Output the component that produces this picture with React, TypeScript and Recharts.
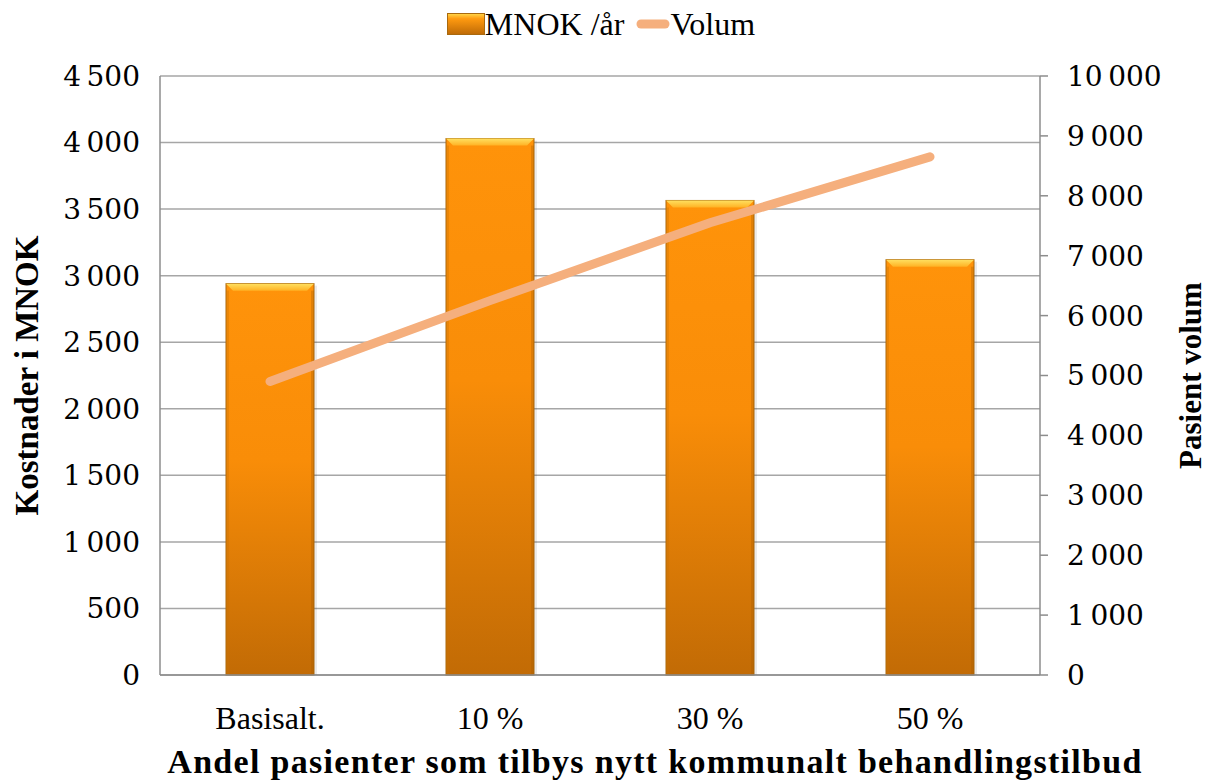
import React from 'react';
import { ComposedChart, Bar, Line, XAxis, YAxis, CartesianGrid, Legend } from 'recharts';

const categories = ['Basisalt.', '10 %', '30 %', '50 %'];
const mnokValues = [2940, 4030, 3565, 3120];
const volumValues = [4900, 6250, 7550, 8650];
const leftTicks = [0, 500, 1000, 1500, 2000, 2500, 3000, 3500, 4000, 4500];
const rightTicks = [0, 1000, 2000, 3000, 4000, 5000, 6000, 7000, 8000, 9000, 10000];

const data = categories.map((c, i) => ({ name: c, mnok: mnokValues[i], volum: volumValues[i] }));

const fmt = (v: number) => {
  const s = String(v);
  return s.replace(/\B(?=(\d{3})+(?!\d))/g, '\u2009');
};

const SERIF = "'Liberation Serif', 'Times New Roman', serif";
const TICKFONT = "'DejaVu Serif', serif";

const BarShape = (props: any) => {
  const { x, y, width, height } = props;
  if (!height || height <= 0) return null;
  const b = Math.min(7, height / 2);
  return (
    <g>
      <rect x={x + 3} y={y + 2} width={width} height={height - 2} fill="#000" opacity={0.08} />
      <rect x={x} y={y} width={width} height={height} fill="url(#barGrad)" stroke="#A9690E" strokeWidth={1} />
      <polygon
        points={`${x},${y} ${x + width},${y} ${x + width - b},${y + b} ${x + b},${y + b}`}
        fill="url(#bevelGrad)"
      />
      <rect x={x} y={y + b} width={3} height={height - b} fill="#C97406" opacity={0.35} />
      <rect x={x + width - 3} y={y + b} width={3} height={height - b} fill="#A85E04" opacity={0.35} />
    </g>
  );
};

const LegendContent = () => (
  <div
    style={{
      display: 'flex',
      justifyContent: 'center',
      alignItems: 'center',
      fontFamily: SERIF,
      fontSize: 32,
      color: '#000',
      lineHeight: '36px',
      paddingRight: 6,
    }}
  >
    <svg width={38} height={22} style={{ marginRight: 0 }}>
      <defs>
        <linearGradient id="legGrad" x1="0" y1="0" x2="0" y2="1">
          <stop offset="0" stopColor="#FFD84A" />
          <stop offset="0.25" stopColor="#FF9A10" />
          <stop offset="1" stopColor="#BE6A06" />
        </linearGradient>
      </defs>
      <rect x={0.5} y={0.5} width={37} height={21} fill="url(#legGrad)" stroke="#A9690E" />
    </svg>
    <span style={{ marginRight: 12 }}>MNOK /år</span>
    <svg width={34} height={12}>
      <line x1={5} y1={6} x2={29} y2={6} stroke="#F5AF7D" strokeWidth={9} strokeLinecap="round" />
    </svg>
    <span>Volum</span>
  </div>
);

export default function App() {
  return (
    <div style={{ position: 'absolute', left: 0, top: 0, width: 1208, height: 783, background: '#fff' }}>
      <ComposedChart width={1208} height={783} data={data} margin={{ top: 76, right: 0, bottom: 0, left: 0 }}>
        <defs>
          <linearGradient id="barGrad" x1="0" y1="0" x2="0" y2="1">
            <stop offset="0" stopColor="#FF930A" />
            <stop offset="0.45" stopColor="#F98D08" />
            <stop offset="1" stopColor="#C26B05" />
          </linearGradient>
          <linearGradient id="bevelGrad" x1="0" y1="0" x2="0" y2="1">
            <stop offset="0" stopColor="#FFE060" />
            <stop offset="1" stopColor="#FFB224" />
          </linearGradient>
        </defs>
        <CartesianGrid yAxisId="left" vertical={false} stroke="#A6A6A6" strokeWidth={1.5} />
        <XAxis
          dataKey="name"
          height={108}
          axisLine={{ stroke: '#8C8C8C', strokeWidth: 1.5 }}
          tickLine={false}
          tickSize={0}
          tickMargin={31}
          tick={{ fontFamily: SERIF, fontSize: 32, fill: '#000' }}
          label={{
            value: 'Andel pasienter som tilbys nytt kommunalt behandlingstilbud',
            position: 'insideBottom',
            offset: 10,
            dx: 55,
            style: { fontFamily: SERIF, fontSize: 34, fontWeight: 'bold', fill: '#000', letterSpacing: 1.3 },
          }}
        />
        <YAxis
          yAxisId="left"
          width={160}
          domain={[0, 4500]}
          ticks={leftTicks}
          interval={0}
          tickFormatter={fmt}
          axisLine={{ stroke: '#8C8C8C', strokeWidth: 1.5 }}
          tickLine={false}
          tickSize={8}
          tickMargin={12}
          tick={{ fontFamily: TICKFONT, fontSize: 28, fill: '#000' }}
          label={{
            value: 'Kostnader i MNOK',
            angle: -90,
            position: 'insideLeft',
            offset: 26,
            style: { textAnchor: 'middle', fontFamily: SERIF, fontSize: 33, fontWeight: 'bold', fill: '#000' },
          }}
        />
        <YAxis
          yAxisId="right"
          orientation="right"
          width={168}
          domain={[0, 10000]}
          ticks={rightTicks}
          interval={0}
          tickFormatter={fmt}
          axisLine={{ stroke: '#8C8C8C', strokeWidth: 1.5 }}
          tickLine={{ stroke: '#8C8C8C', strokeWidth: 1.5 }}
          tickSize={8}
          tickMargin={19}
          tick={{ fontFamily: TICKFONT, fontSize: 28, fill: '#000', textAnchor: 'start' }}
          label={{
            value: 'Pasient volum',
            angle: -90,
            position: 'insideRight',
            offset: 18,
            style: { textAnchor: 'middle', fontFamily: SERIF, fontSize: 31, fontWeight: 'bold', fill: '#000' },
          }}
        />
        <Legend
          verticalAlign="middle"
          align="center"
          layout="horizontal"
          wrapperStyle={{ top: 6, left: 0, width: 1208 }}
          content={<LegendContent />}
        />
        <Bar
          yAxisId="left"
          dataKey="mnok"
          name="MNOK /år"
          barSize={88}
          shape={<BarShape />}
          isAnimationActive={false}
        />
        <Line
          yAxisId="right"
          dataKey="volum"
          name="Volum"
          type="linear"
          stroke="#F5AF7D"
          strokeWidth={9}
          strokeLinecap="round"
          dot={false}
          activeDot={false}
          isAnimationActive={false}
        />
      </ComposedChart>
    </div>
  );
}
